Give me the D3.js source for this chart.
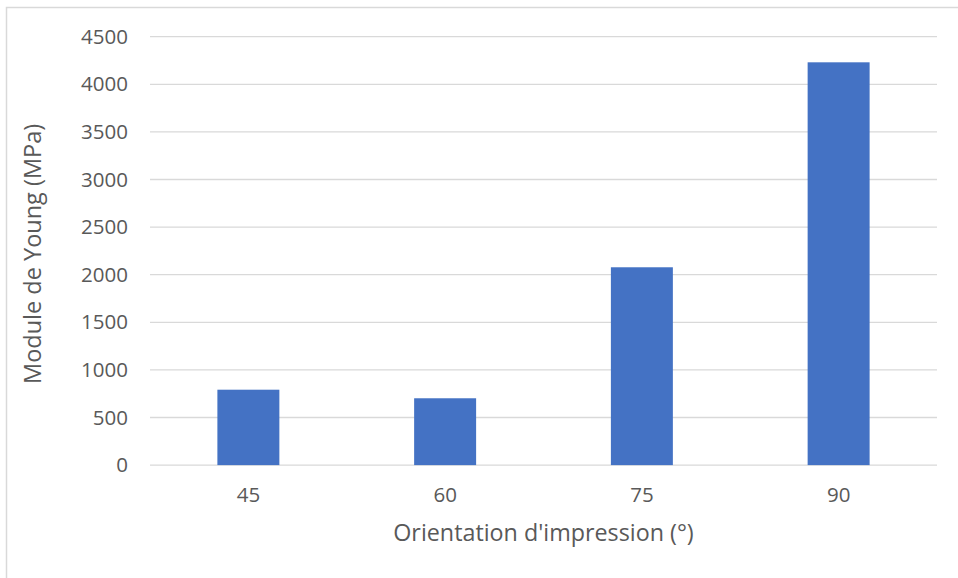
<!DOCTYPE html>
<html><head><meta charset="utf-8">
<script src="https://cdn.jsdelivr.net/npm/d3@7"></script>
<style>body{margin:0;background:#fff}svg{display:block}text{font-family:"Open Sans",sans-serif;fill:#595959}</style>
</head><body>
<script>
const categories = ["45", "60", "75", "90"];
const values = [792, 702, 2078, 4231];
const yTicks = [0, 500, 1000, 1500, 2000, 2500, 3000, 3500, 4000, 4500];
const xTitle = "Orientation d'impression (°)";
const yTitle = "Module de Young (MPa)";

const W = 958, H = 578;
const m = {left: 150, right: 21, top: 36.7, bottom: 112.9};
const svg = d3.select("body").append("svg").attr("width", W).attr("height", H);

// chart border
svg.append("rect").attr("x", 6.5).attr("y", 7.5).attr("width", 1000).attr("height", 1000)
  .attr("fill", "none").attr("stroke", "#d9d9d9").attr("stroke-width", 1.5);

const x = d3.scaleBand().domain(categories).range([m.left, W - m.right]).paddingInner(0.685).paddingOuter(0.3425);
const y = d3.scaleLinear().domain([0, 4500]).range([H - m.bottom, m.top]);

const g = svg.append("g");
g.selectAll(".grid").data(yTicks).join("line")
  .attr("x1", m.left).attr("x2", W - m.right)
  .attr("y1", d => y(d)).attr("y2", d => y(d))
  .attr("stroke", "#d9d9d9").attr("stroke-width", 1.3);

g.selectAll(".bar").data(values).join("rect")
  .attr("x", (d, i) => x(categories[i])).attr("width", x.bandwidth())
  .attr("y", d => y(d)).attr("height", d => y(0) - y(d))
  .attr("fill", "#4472c4");

const yAxis = d3.axisLeft(y).tickValues(yTicks).tickFormat(d3.format("d")).tickSize(0).tickPadding(22);
const ya = svg.append("g").attr("transform", `translate(${m.left},0)`).call(yAxis);
ya.select(".domain").remove();
ya.selectAll("text").attr("font-size", 20.5).style("fill", "#595959").attr("font-family", "Open Sans");

const xAxis = d3.axisBottom(x).tickSize(0).tickPadding(22);
const xa = svg.append("g").attr("transform", `translate(0,${y(0)})`).call(xAxis);
xa.select(".domain").remove();
xa.selectAll("text").attr("font-size", 20.5).style("fill", "#595959").attr("font-family", "Open Sans");

svg.append("text").attr("x", (m.left + W - m.right) / 2).attr("y", 541)
  .attr("text-anchor", "middle").attr("font-size", 23.3).text(xTitle);
svg.append("text").attr("transform", `translate(41,${(y(0) + y(4500)) / 2 + 3}) rotate(-90)`)
  .attr("text-anchor", "middle").attr("font-size", 23.5).text(yTitle);
</script>
</body></html>
